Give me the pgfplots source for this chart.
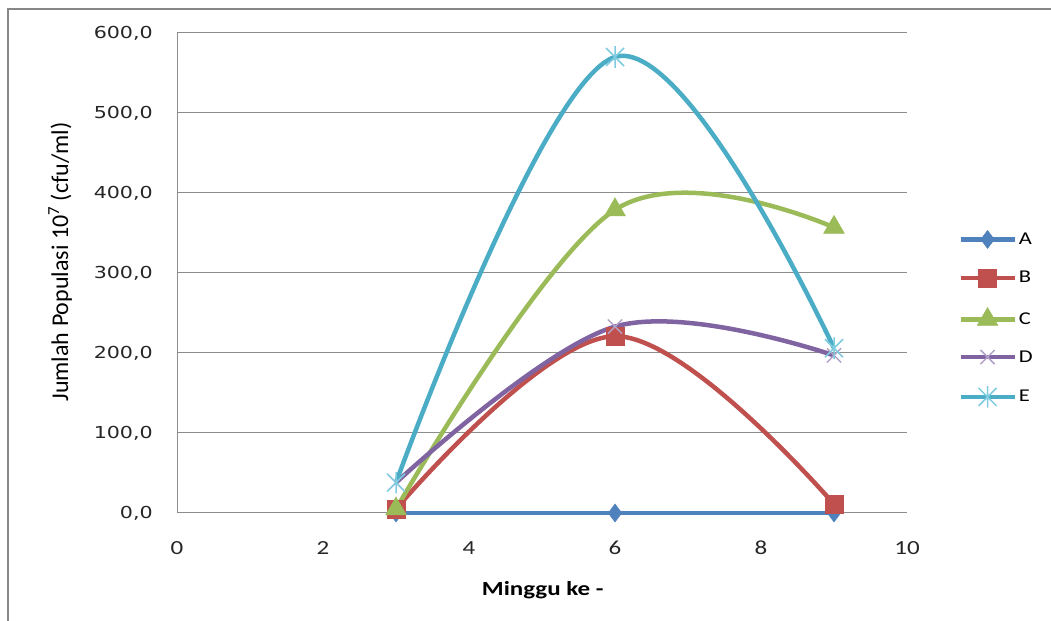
\documentclass[border=0pt]{standalone}
\usepackage{fontspec}
\setmainfont{Carlito}[FakeStretch=1.25]
\newfontfamily\tickfont{DejaVu Sans}[FakeStretch=1.25]
\newfontfamily\ylabfont{Carlito}
\usepackage{pgfplots}
\pgfplotsset{compat=1.18}
\definecolor{cA}{HTML}{4F81BD}
\definecolor{cB}{HTML}{C0504D}
\definecolor{cC}{HTML}{9BBB59}
\definecolor{cD}{HTML}{8064A2}
\definecolor{cE}{HTML}{4BACC6}
\definecolor{mD}{HTML}{B3A2C7}
\definecolor{mE}{HTML}{7FCBDF}
\definecolor{frame}{HTML}{878787}
\definecolor{gridc}{HTML}{8C8C8C}
\pgfdeclareplotmark{xstar}{%
  \pgfpathmoveto{\pgfqpoint{-\pgfplotmarksize}{-\pgfplotmarksize}}%
  \pgfpathlineto{\pgfqpoint{\pgfplotmarksize}{\pgfplotmarksize}}%
  \pgfpathmoveto{\pgfqpoint{-\pgfplotmarksize}{\pgfplotmarksize}}%
  \pgfpathlineto{\pgfqpoint{\pgfplotmarksize}{-\pgfplotmarksize}}%
  \pgfpathmoveto{\pgfqpoint{0pt}{-1.2\pgfplotmarksize}}%
  \pgfpathlineto{\pgfqpoint{0pt}{1.2\pgfplotmarksize}}%
  \pgfusepathqstroke}
\begin{document}
\begin{tikzpicture}
\path[use as bounding box] (0,0) rectangle (1051bp,621bp);
\draw[frame, line width=2bp] (8bp,0) -- (8bp,611.5bp) -- (1051bp,611.5bp);
\begin{axis}[
  at={(177bp,108bp)}, anchor=south west,
  width=730bp, height=480bp, scale only axis,
  xmin=0, xmax=10, ymin=0, ymax=600,
  xtick={0,2,...,10}, ytick={0,100,...,600},
  axis lines*=left,
  axis line style={gridc, line width=1bp},
  ymajorgrids, grid style={gridc, line width=1bp},
  major tick length=0pt,
  clip=false,
  /pgf/number format/assume math mode=true,
  y tick label style={/pgf/number format/fixed, /pgf/number format/fixed zerofill, /pgf/number format/precision=1, /pgf/number format/use comma, /pgf/number format/1000 sep={}},
  yticklabel style={font=\tickfont\fontsize{16.5bp}{19bp}\selectfont, color=black!85, anchor=east, inner sep=0pt, xshift=-24bp},
  xticklabel style={font=\fontsize{20bp}{24bp}\selectfont, color=black!85, anchor=north, inner sep=0pt, yshift=-28bp},
  xlabel={\bfseries Minggu ke -},
  xlabel style={at={(axis description cs:0.501,-0.160)}, anchor=center, font=\fontsize{20bp}{24bp}\selectfont},
  ylabel={Jumlah Populasi 10\textsuperscript{7} (cfu/ml)},
  ylabel style={at={(axis description cs:-0.160,0.523)}, anchor=center, font=\ylabfont\fontsize{24bp}{28bp}\selectfont},
  legend style={at={(1.07,0.404)}, anchor=west, draw=none, fill=none, font=\fontsize{18bp}{22bp}\selectfont, row sep=20.5bp, inner sep=0pt},
  legend cell align=left,
  legend image code/.code={\draw[mark repeat=2, mark phase=2, #1] plot coordinates {(0bp,0bp) (27bp,0bp) (54bp,0bp)};},
  every axis plot/.append style={line width=4.5bp, smooth, tension=0.6},
]
\addplot[cA, mark=diamond*, mark size=9bp, mark options={solid, line width=0.5bp}] coordinates {(3,0) (6,0) (9,0)};
\addlegendentry{A}
\addplot[cB, mark=square*, mark size=9bp, mark options={solid, line width=0.5bp}] coordinates {(3,5) (6,221) (9,11)};
\addlegendentry{B}
\addplot[cC, mark=triangle*, mark size=12bp, mark options={solid, line width=0.5bp}] coordinates {(3,5) (6,379) (9,357)};
\addlegendentry{C}
\addplot[cD, mark=x, mark size=10bp, mark options={solid, mD, line width=1.5bp}] coordinates {(3,38) (6,233) (9,197)};
\addlegendentry{D}
\addplot[cE, mark=xstar, mark size=9bp, mark options={solid, mE, line width=1.5bp}] coordinates {(3,38) (6,570) (9,206)};
\addlegendentry{E}
\end{axis}
\end{tikzpicture}
\end{document}
